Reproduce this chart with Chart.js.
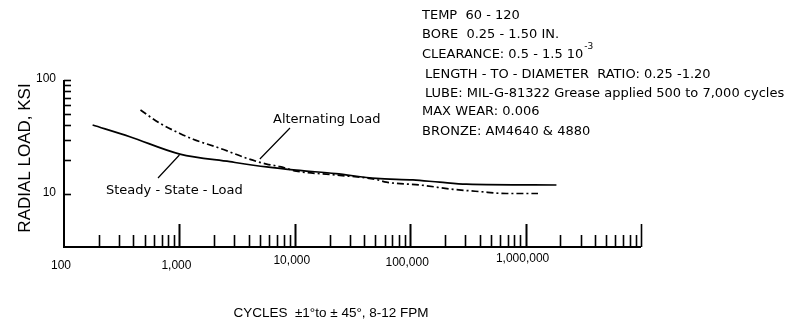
<!DOCTYPE html>
<html>
<head>
<meta charset="utf-8">
<script src="https://cdn.jsdelivr.net/npm/chart.js@4/dist/chart.umd.min.js"></script>
<style>
  html, body { margin: 0; padding: 0; background: #ffffff; }
  #wrap { width: 792px; height: 323px; position: relative; }
</style>
</head>
<body>
<div id="wrap"><canvas id="c" width="792" height="323"></canvas></div>
<script>
// ---------- DATA ----------
const steadyCycles = [177, 372, 1009, 2740, 5690, 10300, 22600, 50900, 105700, 180000, 307000, 1850000];
const steadyLoad   = [40.3, 31.8, 22.4, 19.2, 17.3, 16.2, 15.1, 13.7, 13.3, 12.7, 12.2, 12.0];

const altCycles = [460, 678, 1009, 1315, 2245, 3820, 5690, 7410, 10300, 22600, 50900, 62200, 120800, 235000, 400000, 681000, 1280000];
const altLoad   = [54.5, 41.7, 34.0, 30.2, 25.2, 20.6, 18.3, 17.4, 15.9, 14.7, 13.4, 12.7, 12.0, 11.0, 10.5, 10.1, 10.1];

const xTickValues = [100, 1000, 10000, 100000, 1000000, 10000000];
const xTickLabels = ['100', '1,000', '10,000', '100,000', '1,000,000', ''];
const yTickValues = [10, 100];
const yTickLabels = ['10', '100'];

const yTitle = 'RADIAL LOAD, KSI';
const xTitle = 'CYCLES  \u00B11\u00B0to \u00B1 45\u00B0, 8-12 FPM';
const seriesNames = ['Steady - State - Load', 'Alternating Load'];
const notes = [
  'TEMP  60 - 120',
  'BORE  0.25 - 1.50 IN.',
  'CLEARANCE: 0.5 - 1.5 10',
  'LENGTH - TO - DIAMETER  RATIO: 0.25 -1.20',
  'LUBE: MIL-G-81322 Grease applied 500 to 7,000 cycles',
  'MAX WEAR: 0.006',
  'BRONZE: AM4640 & 4880'
];
const clearanceExp = '-3';

// ---------- LAYOUT ----------
const xLabelY = [266, 266, 261, 263, 259, 259];
const noteX = [422, 422, 422, 425, 425, 422, 422];
const noteY = [16, 35, 54.5, 74.5, 94, 111.5, 131.5];

const toPts = (xs, ys) => xs.map((x, i) => ({ x: x, y: ys[i] }));

const decor = {
  id: 'decor',
  afterDraw(chart) {
    const ctx = chart.ctx;
    const xs = chart.scales.x, ys = chart.scales.y;
    const a = chart.chartArea;
    ctx.save();
    ctx.strokeStyle = '#000';
    ctx.fillStyle = '#000';
    // axis lines
    ctx.lineWidth = 2;
    ctx.beginPath();
    ctx.moveTo(a.left, a.top);
    ctx.lineTo(a.left, a.bottom);
    ctx.lineTo(a.right, a.bottom);
    ctx.stroke();
    // x ticks (inward)
    ctx.lineWidth = 1.6;
    for (let d = 0; d < xTickValues.length - 1; d++) {
      for (let m = 1; m <= 10; m++) {
        if (d === 0 && m === 1) continue;
        const v = xTickValues[d] * m;
        const px = Math.round(xs.getPixelForValue(v)) + 0.5;
        const len = (m === 1 || m === 10) ? 23 : 12;
        ctx.beginPath();
        ctx.moveTo(px, a.bottom);
        ctx.lineTo(px, a.bottom - len);
        ctx.stroke();
      }
    }
    // y ticks (inward)
    for (let m = 1; m <= 10; m++) {
      const v = yTickValues[0] * m;
      const py = Math.round(ys.getPixelForValue(v)) + 0.5;
      ctx.beginPath();
      ctx.moveTo(a.left, py);
      ctx.lineTo(a.left + 7, py);
      ctx.stroke();
    }
    // tick labels
    ctx.font = '12px "Liberation Sans", Arial, sans-serif';
    ctx.textBaseline = 'middle';
    ctx.textAlign = 'center';
    xTickValues.forEach((v, i) => {
      if (!xTickLabels[i]) return;
      ctx.fillText(xTickLabels[i], xs.getPixelForValue(v) - 3, xLabelY[i]);
    });
    ctx.textAlign = 'right';
    yTickValues.forEach((v, i) => {
      ctx.fillText(yTickLabels[i], a.left - 8, ys.getPixelForValue(v) - 1);
    });
    // y title
    ctx.save();
    ctx.translate(25, 158);
    ctx.rotate(-Math.PI / 2);
    ctx.textAlign = 'center';
    ctx.font = '17px "Liberation Sans", Arial, sans-serif';
    ctx.fillText(yTitle, 0, 0);
    ctx.restore();
    // x title
    ctx.textAlign = 'center';
    ctx.font = '13.5px "Liberation Sans", Arial, sans-serif';
    ctx.fillText(xTitle, 331, 313);
    // series labels + leaders
    ctx.font = '13px "DejaVu Sans", sans-serif';
    ctx.textAlign = 'left';
    ctx.fillText(seriesNames[1], 273, 120);
    ctx.fillText(seriesNames[0], 106, 191);
    ctx.lineWidth = 1.2;
    ctx.beginPath();
    ctx.moveTo(290, 128);
    ctx.lineTo(xs.getPixelForValue(4980), ys.getPixelForValue(20.3));
    ctx.moveTo(158, 178);
    ctx.lineTo(xs.getPixelForValue(1000), ys.getPixelForValue(22.0));
    ctx.stroke();
    // notes
    notes.forEach((t, i) => {
      ctx.fillText(t, noteX[i], noteY[i]);
      if (i === 2) {
        const w = ctx.measureText(t).width;
        ctx.save();
        ctx.font = '9px "DejaVu Sans", sans-serif';
        ctx.fillText(clearanceExp, noteX[i] + w + 1, noteY[i] - 8);
        ctx.restore();
      }
    });
    ctx.restore();
  }
};

new Chart(document.getElementById('c'), {
  type: 'line',
  data: {
    datasets: [
      {
        label: seriesNames[0],
        data: toPts(steadyCycles, steadyLoad),
        borderColor: '#000',
        borderWidth: 1.7,
        pointRadius: 0,
        cubicInterpolationMode: 'monotone',
        fill: false
      },
      {
        label: seriesNames[1],
        data: toPts(altCycles, altLoad),
        borderColor: '#000',
        borderWidth: 1.7,
        borderDash: [7, 3, 2, 3],
        pointRadius: 0,
        cubicInterpolationMode: 'monotone',
        fill: false
      }
    ]
  },
  options: {
    responsive: false,
    animation: false,
    devicePixelRatio: 1,
    layout: { padding: { left: 64, right: 151, top: 80, bottom: 76 } },
    plugins: { legend: { display: false }, tooltip: { enabled: false } },
    scales: {
      x: { type: 'logarithmic', min: 100, max: 10000000, display: false },
      y: { type: 'logarithmic', min: 3.43, max: 100, display: false }
    }
  },
  plugins: [decor]
});
</script>
</body>
</html>
